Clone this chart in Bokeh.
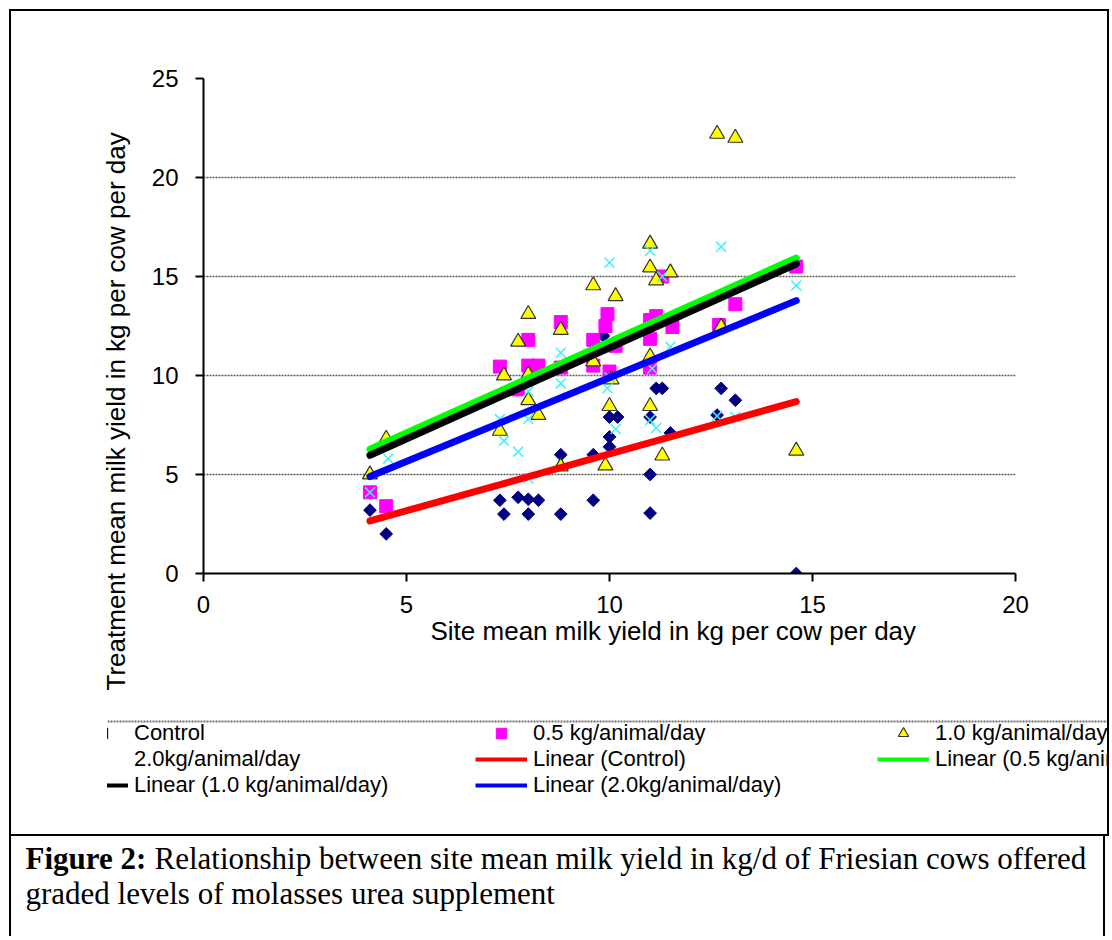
import numpy as np
from bokeh.plotting import figure
from bokeh.layouts import column, row
from bokeh.models import (Legend, LegendItem, FixedTicker, Range1d, Title, Span, Spacer)
from bokeh.core.properties import value
from bokeh.embed import file_html
from bokeh.resources import INLINE

# ---- data ----
ctrl_x = [4.1, 4.5, 7.3, 7.4, 7.75, 8.0, 8.0, 8.25, 8.8, 8.8, 9.6, 9.6, 9.85, 10.0, 10.0, 10.0, 10.2,
          11.0, 11.0, 11.0, 11.15, 11.3, 11.5, 12.65, 12.75, 13.1, 14.6]
ctrl_y = [3.2, 2.0, 3.7, 3.0, 3.85, 3.75, 3.0, 3.7, 3.0, 6.0, 3.7, 6.0, 12.0, 6.9, 6.4, 7.9, 7.9,
          7.9, 5.0, 3.05, 9.35, 9.35, 7.1, 8.0, 9.35, 8.75, 0.0]

half_x = [4.1, 4.5, 7.3, 7.75, 8.0, 8.0, 8.25, 8.8, 8.8, 9.6, 9.6, 9.95, 9.9, 10.15, 10.0,
          11.0, 11.15, 11.0, 11.0, 11.3, 11.55, 12.7, 13.1, 14.6]
half_y = [4.1, 3.4, 10.45, 9.3, 11.8, 10.5, 10.5, 12.7, 10.4, 11.8, 10.5, 13.1, 12.5, 11.5, 10.2,
          12.8, 13.0, 11.85, 10.4, 15.0, 12.45, 12.55, 13.6, 15.5]

one_x = [4.1, 4.5, 7.3, 7.4, 7.75, 8.0, 8.0, 8.0, 8.25, 8.8, 8.8, 9.6, 9.6, 9.9, 10.0, 10.05, 10.15,
         11.0, 11.0, 11.0, 11.0, 11.15, 11.3, 11.5, 12.65, 12.75, 13.1, 14.6]
one_y = [5.0, 6.8, 7.2, 10.0, 11.7, 13.1, 10.05, 8.75, 8.0, 12.3, 5.4, 14.55, 10.7, 5.45, 8.45, 9.8, 14.0,
         16.65, 15.45, 10.95, 8.45, 14.8, 5.95, 15.2, 22.2, 12.45, 22.0, 6.2]

two_x = [4.1, 4.55, 7.3, 7.4, 7.75, 8.0, 8.0, 8.0, 8.8, 8.8, 9.95, 10.0, 10.0, 10.15, 11.0, 11.0,
         11.05, 11.15, 11.3, 11.5, 12.65, 12.75, 13.1, 14.6]
two_y = [4.1, 5.8, 7.8, 6.7, 6.15, 7.8, 4.8, 9.2, 11.15, 9.6, 9.35, 9.9, 15.7, 7.3, 16.3, 7.75,
         10.35, 7.35, 15.0, 11.45, 7.95, 16.5, 7.9, 14.55]

series_names = ["Control", "0.5 kg/animal/day", "1.0 kg/animal/day", "2.0kg/animal/day"]
trend_names = ["Linear (Control)", "Linear (0.5 kg/animal/day)", "Linear (1.0 kg/animal/day)",
               "Linear (2.0kg/animal/day)"]
trend_intercept = [0.30, 2.50, 2.20, 1.43]
trend_slope = [0.574, 0.92, 0.92, 0.846]

x_ticks = [0, 5, 10, 15, 20]
y_ticks = [0, 5, 10, 15, 20, 25]

x_title = "Site mean milk yield in kg per cow per day"
y_title = "Treatment mean milk yield in kg per cow per day"
cap_bold = "Figure 2:"
cap_line1 = "Relationship between site mean milk yield in kg/d of Friesian cows offered"
cap_line2 = "graded levels of molasses urea supplement"

# ---- styles ----
SANS = "Liberation Sans"
SERIF = "Liberation Serif"
colors = ["#FF0000", "#00FF00", "#000000", "#0000FF"]
ctrl_style = dict(marker="square", size=9, angle=np.pi / 4, fill_color="#000080", line_color="#000080")
half_style = dict(marker="square", size=13, fill_color="#FF00FF", line_color="#FF00FF")
one_style = dict(marker="triangle", size=15, fill_color="#FFFF00", line_color="#333333", line_width=1.2)
two_style = dict(marker="x", size=14, line_color="#3FEFFF", line_width=1.5)

INNER_W = 1096

# ---- chart figure ----
p = figure(width=INNER_W, height=701, output_backend="svg", toolbar_location=None,
           x_range=Range1d(0, 20), y_range=Range1d(0, 25),
           min_border_left=192, min_border_right=92, min_border_top=67, min_border_bottom=139)
p.outline_line_color = None
p.xgrid.grid_line_color = None
p.ygrid.grid_line_color = "#5a5a5a"
p.ygrid.grid_line_width = 1.5
p.ygrid.grid_line_dash = "2 1"

p.xaxis.ticker = FixedTicker(ticks=x_ticks)
p.yaxis.ticker = FixedTicker(ticks=y_ticks)
for ax in (p.xaxis[0], p.yaxis[0]):
    ax.axis_line_width = 2
    ax.axis_line_color = "black"
    ax.major_tick_line_width = 2
    ax.major_tick_line_color = "black"
    ax.major_tick_in = 0
    ax.major_tick_out = 8
    ax.minor_tick_line_color = None
    ax.major_label_text_font = SANS
    ax.major_label_text_font_size = "24px"
    ax.major_label_text_color = "black"
p.yaxis.major_label_standoff = 17
p.xaxis.major_label_standoff = 14

p.add_layout(Title(text=x_title, align="left", offset=227, vertical_align="top", standoff=0,
                   text_font=SANS, text_font_size="26px", text_font_style="normal",
                   text_color="black"), "below")
p.add_layout(Title(text=y_title, align="left", offset=-117, vertical_align="middle", standoff=34,
                   text_font=SANS, text_font_size="26px", text_font_style="normal",
                   text_color="black"), "left")

r_ctrl = p.scatter(ctrl_x, ctrl_y, **ctrl_style)
r_half = p.scatter(half_x, half_y, **half_style)
r_one = p.scatter(one_x, one_y, **one_style)
r_two = p.scatter(two_x, two_y, **two_style)

xs_all = [ctrl_x, half_x, one_x, two_x]
for b0, b1, xs, c in zip(trend_intercept, trend_slope, xs_all, colors):
    x0, x1 = min(xs), max(xs)
    p.line([x0, x1], [b0 + b1 * x0, b0 + b1 * x1], line_color=c, line_width=7, line_cap="round")

# ---- legend strip (its own figure; frame starts where the legend area is clipped) ----
LEG_H = 122
LEG_LEFT = 96
lg = figure(width=INNER_W, height=LEG_H, output_backend="svg", toolbar_location=None,
            x_range=Range1d(0, INNER_W - LEG_LEFT), y_range=Range1d(LEG_H, 0),
            x_axis_location=None, y_axis_location=None,
            min_border_left=LEG_LEFT, min_border_right=0, min_border_top=0, min_border_bottom=0)
lg.outline_line_color = None
lg.grid.grid_line_color = None
lg.add_layout(Span(location=9, dimension="width", line_color="#707070", line_width=2,
                   line_dash="2 1"))

nan = [float("nan")]
px_ctrl = lg.scatter(x=nan, y=nan, **ctrl_style)
px_half = lg.scatter(x=nan, y=nan, **half_style)
px_one = lg.scatter(x=nan, y=nan, **one_style)
px_two = lg.scatter(x=nan, y=nan, **two_style)
px_lines = [lg.line(x=nan, y=nan, line_color=c, line_width=4) for c in colors]

ROW = 26
def add_legend(items, x):
    n = len(items)
    leg = Legend(items=items, location=(x, LEG_H - 8 - ROW * n), orientation="vertical",
                 glyph_width=52, glyph_height=ROW, label_height=ROW, spacing=0, padding=0, margin=0,
                 label_standoff=6, border_line_color=None, background_fill_alpha=0,
                 label_text_font=SANS, label_text_font_size="22px", label_text_color="black")
    lg.add_layout(leg)

add_legend([LegendItem(label=series_names[0], renderers=[px_ctrl]),
            LegendItem(label=series_names[3], renderers=[px_two]),
            LegendItem(label=trend_names[2], renderers=[px_lines[2]])], -31)
add_legend([LegendItem(label=series_names[1], renderers=[px_half]),
            LegendItem(label=trend_names[0], renderers=[px_lines[0]]),
            LegendItem(label=trend_names[3], renderers=[px_lines[3]])], 368)
add_legend([LegendItem(label=series_names[2], renderers=[px_one]),
            LegendItem(label=trend_names[1], renderers=[px_lines[1]])], 770)

# ---- caption ----
CAP_H = 100
cap = figure(width=INNER_W, height=CAP_H, output_backend="svg", toolbar_location=None,
             x_range=Range1d(0, INNER_W), y_range=Range1d(CAP_H, 0),
             x_axis_location=None, y_axis_location=None, min_border=0,
             styles={"border-left": "2px solid black", "border-right": "2px solid black"})
cap.outline_line_color = None
cap.grid.grid_line_color = None
CAP_FS = "31px"
cap.text(x=[14], y=[22], text=[cap_bold], text_font=value(SERIF), text_font_size=CAP_FS,
         text_font_style="bold", text_baseline="middle", text_color="black")
cap.text(x=[143], y=[22], text=[cap_line1], text_font=value(SERIF), text_font_size=CAP_FS,
         text_baseline="middle", text_color="black")
cap.text(x=[14], y=[57], text=[cap_line2], text_font=value(SERIF), text_font_size=CAP_FS,
         text_baseline="middle", text_color="black")

box = column(row(p), row(lg), styles={"border": "2px solid black"})
root = row(Spacer(width=9), column(Spacer(height=9), box, cap))

open("out.html", "w").write(file_html(root, INLINE))
